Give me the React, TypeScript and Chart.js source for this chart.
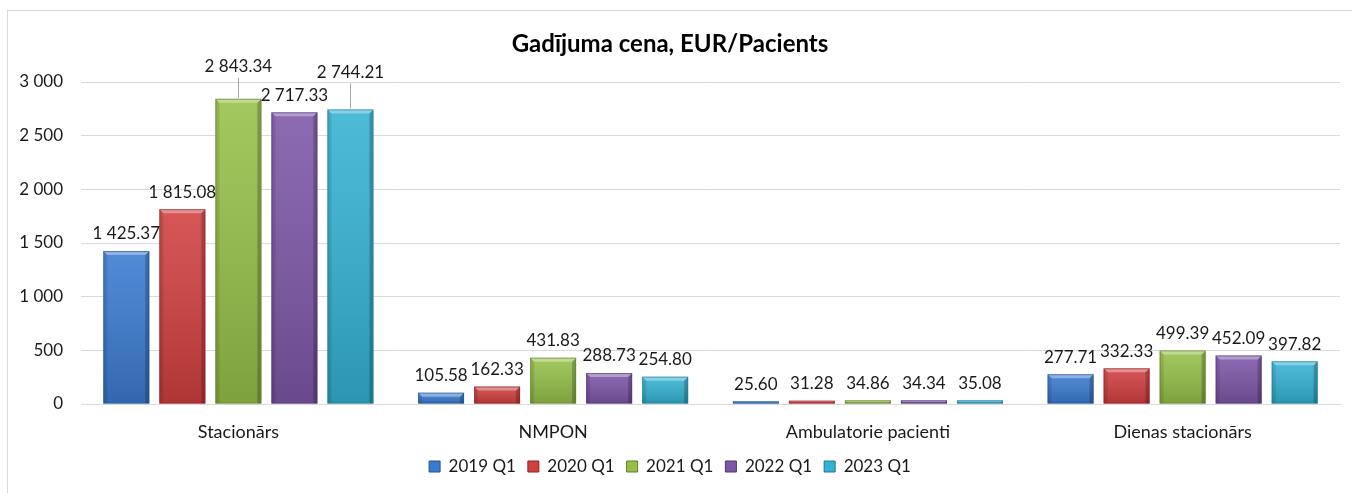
import React, { useEffect, useRef } from "react";
import { Chart, registerables } from "chart.js";

Chart.register(...registerables);

const categories = ["Stacionārs", "NMPON", "Ambulatorie pacienti", "Dienas stacionārs"];
const seriesNames = ["2019 Q1", "2020 Q1", "2021 Q1", "2022 Q1", "2023 Q1"];
const values2019 = [1425.37, 105.58, 25.6, 277.71];
const values2020 = [1815.08, 162.33, 31.28, 332.33];
const values2021 = [2843.34, 431.83, 34.86, 499.39];
const values2022 = [2717.33, 288.73, 34.34, 452.09];
const values2023 = [2744.21, 254.8, 35.08, 397.82];
const seriesValues = [values2019, values2020, values2021, values2022, values2023];
const seriesColors = ["#3a7bd0", "#d13f3f", "#95c049", "#7d56a8", "#34b2d3"];
const seriesEdges = ["#23558f", "#8e2323", "#5f7f2a", "#4f3570", "#1f7890"];
const yTicks = [0, 500, 1000, 1500, 2000, 2500, 3000];

// label callouts (extra lift in px) for specific dataset/category pairs
const calloutLift: Record<string, number> = { "2-0": 15, "4-0": 20 };

const FONT = "Lato, 'Noto Sans', sans-serif";
const TEXT = "#1a1a1a";

function fmt(v: number, dec: number): string {
  const s = v.toFixed(dec);
  const [i, d] = s.split(".");
  const ii = i.replace(/\B(?=(\d{3})+(?!\d))/g, " ");
  return d ? ii + "." + d : ii;
}

const bevelPlugin = {
  id: "bevel",
  afterDatasetsDraw(chart: any) {
    const ctx = chart.ctx;
    chart.data.datasets.forEach((ds: any, di: number) => {
      const meta = chart.getDatasetMeta(di);
      meta.data.forEach((bar: any) => {
        const { x, y, base, width } = bar.getProps(["x", "y", "base", "width"], true);
        const l = x - width / 2;
        const r = x + width / 2;
        const h = base - y;
        if (h <= 0) return;
        ctx.save();
        const g = ctx.createLinearGradient(0, y, 0, base);
        g.addColorStop(0, "rgba(255,255,255,0.12)");
        g.addColorStop(1, "rgba(0,0,0,0.16)");
        ctx.fillStyle = g;
        ctx.fillRect(l, y, width, h);
        const bev = Math.min(4, h / 2);
        ctx.fillStyle = "rgba(0,0,0,0.10)";
        ctx.beginPath();
        ctx.moveTo(l, y);
        ctx.lineTo(l + bev, y + bev);
        ctx.lineTo(l + bev, base);
        ctx.lineTo(l, base);
        ctx.closePath();
        ctx.fill();
        ctx.fillStyle = "rgba(0,0,0,0.22)";
        ctx.beginPath();
        ctx.moveTo(r, y);
        ctx.lineTo(r - bev, y + bev);
        ctx.lineTo(r - bev, base);
        ctx.lineTo(r, base);
        ctx.closePath();
        ctx.fill();
        ctx.fillStyle = "rgba(255,255,255,0.35)";
        ctx.beginPath();
        ctx.moveTo(l, y);
        ctx.lineTo(r, y);
        ctx.lineTo(r - bev, y + bev);
        ctx.lineTo(l + bev, y + bev);
        ctx.closePath();
        ctx.fill();
        ctx.strokeStyle = seriesEdges[di];
        ctx.globalAlpha = 0.6;
        ctx.lineWidth = 1;
        ctx.strokeRect(l + 0.5, y + 0.5, width - 1, h - 1);
        ctx.restore();
      });
    });
  },
};

const labelPlugin = {
  id: "valueLabels",
  afterDatasetsDraw(chart: any) {
    const ctx = chart.ctx;
    ctx.save();
    ctx.font = `17px ${FONT}`;
    ctx.fillStyle = TEXT;
    ctx.textAlign = "center";
    ctx.textBaseline = "middle";
    chart.data.datasets.forEach((ds: any, di: number) => {
      const meta = chart.getDatasetMeta(di);
      meta.data.forEach((bar: any, ci: number) => {
        const { x, y } = bar.getProps(["x", "y"], true);
        const lift = calloutLift[`${di}-${ci}`] || 0;
        const ly = y - 17 - lift;
        if (lift) {
          ctx.save();
          ctx.strokeStyle = "#a6a6a6";
          ctx.lineWidth = 1;
          ctx.beginPath();
          ctx.moveTo(Math.round(x) + 0.5, y - 1);
          ctx.lineTo(Math.round(x) + 0.5, ly + 11);
          ctx.stroke();
          ctx.restore();
        }
        ctx.fillText(fmt(ds.data[ci], 2), x, ly);
      });
    });
    ctx.restore();
  },
};

export default function App() {
  const ref = useRef<HTMLCanvasElement | null>(null);
  useEffect(() => {
    if (!ref.current) return;
    const chart = new Chart(ref.current, {
      type: "bar",
      data: {
        labels: categories,
        datasets: seriesNames.map((name, i) => ({
          label: name,
          data: seriesValues[i],
          backgroundColor: seriesColors[i],
          borderWidth: 0,
          barPercentage: 0.82,
          categoryPercentage: 0.89,
        })),
      },
      options: {
        animation: false,
        responsive: false,
        maintainAspectRatio: false,
        layout: { padding: { left: 0, right: 12, top: 0, bottom: 8 } },
        plugins: {
          title: {
            display: true,
            text: "Gadījuma cena, EUR/Pacients",
            color: "#000",
            font: { family: FONT, size: 24, weight: "bold" },
            padding: { top: 29.6, bottom: 23.6 },
          },
          legend: {
            position: "bottom",
            labels: {
              color: TEXT,
              font: { family: FONT, size: 17 },
              boxWidth: 11,
              boxHeight: 11,
              padding: 12,
              generateLabels: (c: any) =>
                c.data.datasets.map((ds: any, i: number) => ({
                  text: ds.label,
                  fillStyle: seriesColors[i],
                  strokeStyle: seriesEdges[i],
                  lineWidth: 1,
                  datasetIndex: i,
                  fontColor: TEXT,
                })),
            },
          },
          tooltip: { enabled: false },
        },
        scales: {
          x: {
            grid: { display: false, drawTicks: false },
            border: { display: true, color: "#d9d9d9" },
            ticks: { color: TEXT, font: { family: FONT, size: 18 }, padding: 17 },
            afterFit: (s: any) => {
              s.height = 42;
            },
          },
          y: {
            min: 0,
            max: 3000,
            afterBuildTicks: (s: any) => {
              s.ticks = yTicks.map((v) => ({ value: v }));
            },
            ticks: {
              color: TEXT,
              font: { family: FONT, size: 17 },
              padding: 18,
              callback: (v: any) => fmt(Number(v), 0),
            },
            grid: { color: "#d9d9d9", drawTicks: false },
            border: { display: false },
            afterFit: (s: any) => {
              s.width = 81;
            },
          },
        },
      },
      plugins: [bevelPlugin, labelPlugin],
    } as any);
    return () => chart.destroy();
  }, []);

  return (
    <div style={{ position: "absolute", left: 0, top: 0, width: 1352, height: 493, background: "#fff", overflow: "hidden" }}>
      <div
        style={{
          position: "absolute",
          left: 7,
          top: 10,
          width: 1360,
          height: 500,
          border: "1px solid #d9d9d9",
          boxSizing: "border-box",
        }}
      />
      <canvas ref={ref} width={1352} height={493} style={{ position: "absolute", left: 0, top: 0, width: 1352, height: 493 }} />
    </div>
  );
}
